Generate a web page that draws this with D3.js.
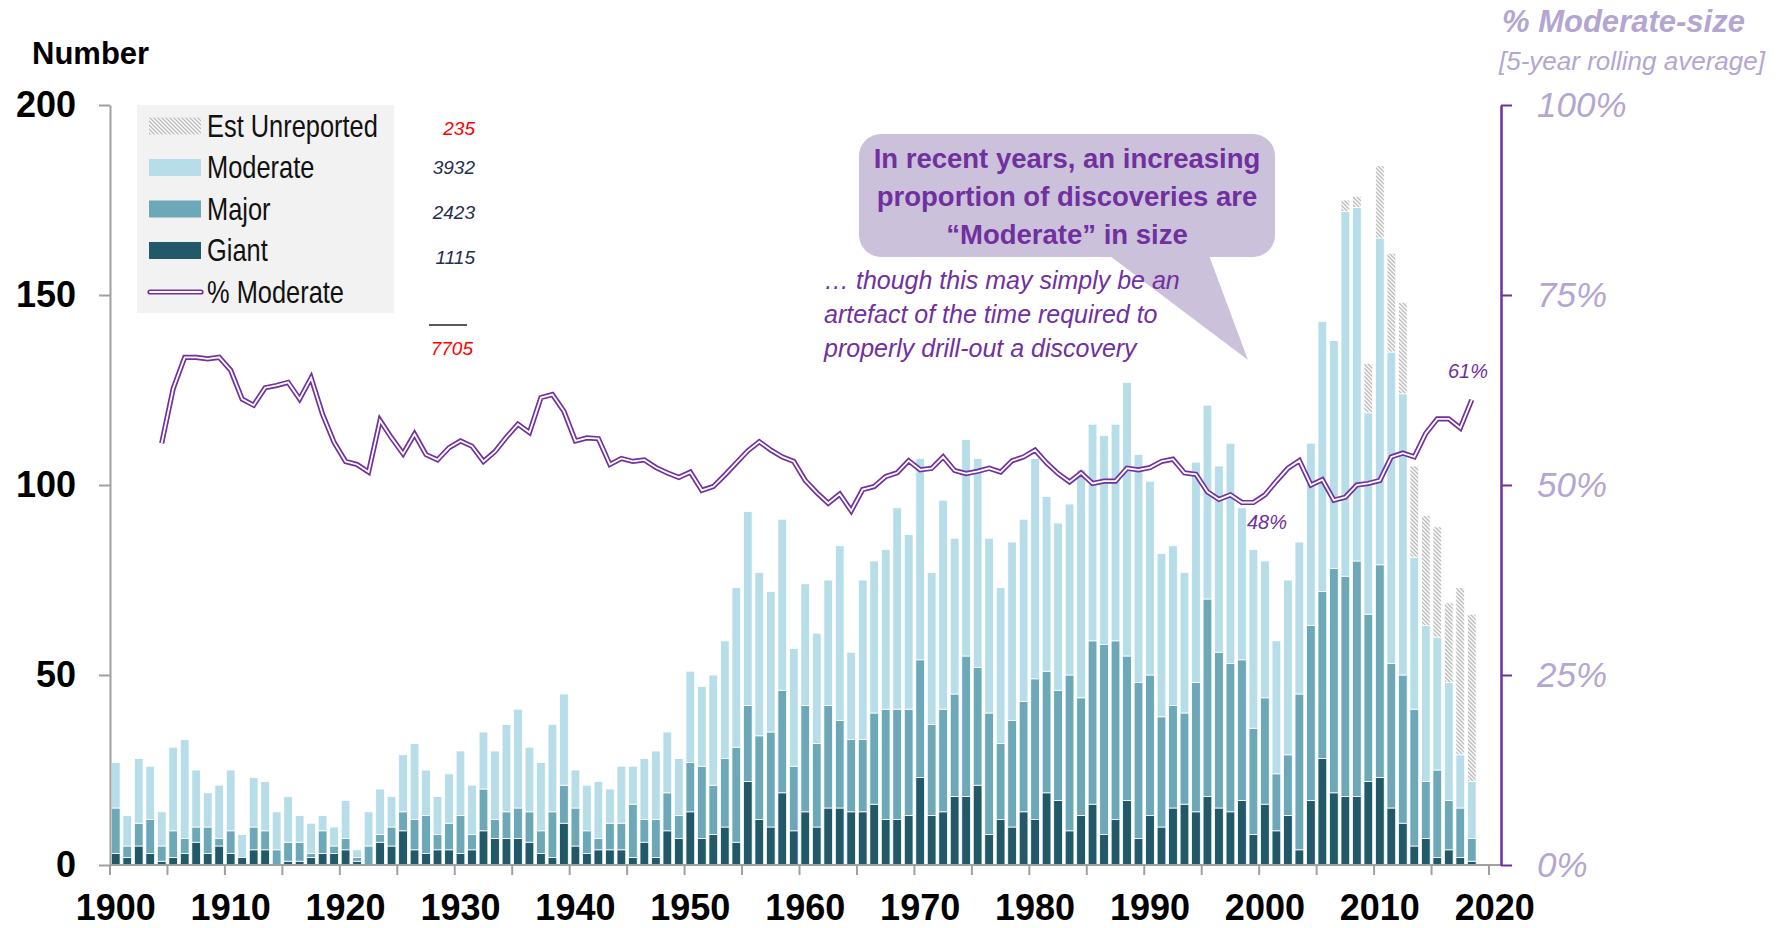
<!DOCTYPE html>
<html>
<head>
<meta charset="utf-8">
<script src="https://cdn.jsdelivr.net/npm/d3@7"></script>
<style>
  body { margin: 0; background: #fff; }
  svg { display: block; }
  text { font-family: "Liberation Sans", Arial, sans-serif; }
</style>
</head>
<body>
<svg id="chart" width="1784" height="928"></svg>
<script>
// discoveries per year, split by size class
const years = d3.range(1900, 2019);

const giant = [3, 2, 5, 3, 1, 2, 3, 6, 3, 5,
  3, 2, 4, 4, 0, 1, 1, 2, 3, 3,
  4, 1, 0, 6, 5, 9, 4, 3, 4, 4,
  3, 4, 9, 7, 7, 7, 6, 3, 2, 11,
  5, 3, 4, 4, 4, 2, 6, 2, 9, 7,
  14, 7, 8, 10, 6, 22, 12, 10, 19, 9,
  14, 10, 15, 15, 14, 14, 16, 12, 12, 13,
  23, 13, 14, 18, 18, 21, 8, 12, 10, 14,
  12, 19, 17, 9, 13, 16, 8, 12, 17, 7,
  13, 10, 15, 16, 14, 18, 15, 14, 17, 8,
  16, 9, 13, 4, 17, 28, 19, 18, 18, 22,
  23, 15, 11, 5, 7, 2, 4, 2, 1];

const major = [12, 3, 6, 9, 4, 7, 4, 4, 7, 2,
  6, 0, 6, 5, 4, 5, 5, 1, 6, 2,
  3, 1, 5, 2, 5, 5, 8, 10, 4, 7,
  10, 4, 11, 5, 7, 8, 8, 6, 12, 10,
  10, 6, 3, 7, 7, 14, 6, 10, 10, 6,
  13, 19, 13, 18, 25, 20, 22, 25, 27, 17,
  28, 22, 27, 23, 19, 19, 24, 29, 29, 28,
  31, 24, 27, 27, 37, 31, 32, 20, 28, 29,
  37, 32, 29, 41, 31, 43, 50, 47, 38, 41,
  37, 29, 27, 24, 34, 52, 41, 39, 37, 28,
  28, 15, 16, 41, 46, 44, 59, 58, 62, 44,
  56, 38, 39, 36, 15, 23, 13, 13, 6];

const moderate = [12, 8, 17, 14, 9, 22, 26, 15, 9, 14,
  16, 6, 13, 13, 10, 12, 7, 8, 4, 5,
  10, 2, 9, 12, 8, 15, 20, 12, 10, 13,
  17, 13, 15, 18, 23, 26, 17, 18, 23, 24,
  10, 12, 15, 9, 15, 10, 16, 18, 16, 15,
  24, 21, 29, 31, 42, 51, 43, 37, 45, 31,
  32, 29, 33, 46, 23, 42, 40, 42, 53, 46,
  53, 40, 55, 41, 57, 55, 46, 41, 47, 48,
  58, 46, 44, 45, 60, 57, 55, 57, 72, 60,
  51, 43, 42, 37, 58, 51, 49, 58, 40, 47,
  36, 35, 46, 40, 48, 71, 60, 96, 93, 53,
  86, 82, 74, 40, 41, 35, 31, 14, 15];

const unreportedYears = d3.range(2007, 2019);
const unreported = [3, 3, 13, 19, 26, 24, 24, 29, 29, 21, 44, 44];

// 5-year rolling % moderate
const shareYears = d3.range(1904, 2019);
const share = [55.5, 62.7, 66.8, 66.8, 66.6, 66.8, 65.1, 61.3, 60.5, 62.8,
  63.1, 63.5, 61.3, 64.1, 59.3, 55.6, 53.1, 52.7, 51.7, 58.5,
  56.2, 54.1, 56.7, 54.0, 53.3, 54.9, 55.8, 55.1, 53.1, 54.4,
  56.3, 58.0, 56.9, 61.5, 61.9, 59.7, 55.8, 56.2, 56.1, 52.7,
  53.5, 53.1, 53.3, 52.3, 51.6, 51.0, 51.7, 49.3, 49.8, 51.3,
  52.9, 54.5, 55.7, 54.6, 53.7, 53.1, 50.6, 49.0, 47.6, 48.8,
  46.6, 49.4, 49.8, 51.1, 51.6, 53.2, 52.0, 52.2, 53.7, 51.9,
  51.5, 51.8, 52.2, 51.7, 53.2, 53.7, 54.6, 52.9, 51.5, 50.4,
  51.6, 50.2, 50.5, 50.5, 52.2, 52.0, 52.3, 53.1, 53.4, 51.6,
  51.4, 49.1, 48.1, 48.7, 47.7, 47.7, 48.7, 50.5, 52.2, 53.2,
  50.0, 50.7, 48.0, 48.4, 50.0, 50.2, 50.6, 53.7, 54.2, 53.7,
  56.8, 58.7, 58.7, 57.5, 61.2];

const legendLabels = ["Est Unreported", "Moderate", "Major", "Giant", "% Moderate"];
const legendTotals = [235, 3932, 2423, 1115];
const grandTotal = 7705;

const yTicks = [0, 50, 100, 150, 200];
const pctTicks = [0, 0.25, 0.5, 0.75, 1];
const xTickYears = d3.range(1900, 2021, 5);
const xLabelYears = d3.range(1900, 2021, 10);

const purple = "#7030a0";
const lavender = "#b4a6d2";
const axisGrey = "#a0a0a0";

const svg = d3.select("#chart");

const x = d3.scaleLinear().domain([1900, 2020]).range([110, 1489]);
const xBand = d3.scaleBand()
  .domain(d3.range(1900, 2020))
  .range([110, 1489])
  .paddingInner(0.24)
  .paddingOuter(0.12);
const y = d3.scaleLinear().domain([0, 200]).range([865, 105]);
const yPct = d3.scaleLinear().domain([0, 1]).range([865, 105]);

// hatch for unreported
const defs = svg.append("defs");
const hatch = defs.append("pattern")
  .attr("id", "hatch")
  .attr("patternUnits", "userSpaceOnUse")
  .attr("width", 4)
  .attr("height", 4);
hatch.append("rect").attr("width", 4).attr("height", 4).attr("fill", "#fff");
hatch.append("path")
  .attr("d", "M0,0L4,4M-1,3L1,5M3,-1L5,1")
  .attr("stroke", "#bdbdbd")
  .attr("stroke-width", 1.5);

const colors = {
  giant: "#215968",
  major: "#6ca8b8",
  moderate: "#b7dee8",
  unreported: "url(#hatch)",
};

const table = years.map((yr, i) => {
  const u = unreportedYears.indexOf(yr);
  return {
    year: yr,
    giant: giant[i],
    major: major[i],
    moderate: moderate[i],
    unreported: u >= 0 ? unreported[u] : 0,
  };
});

const series = d3.stack().keys(["giant", "major", "moderate", "unreported"])(table);

svg.append("g")
  .selectAll("g")
  .data(series)
  .join("g")
  .attr("fill", (s) => colors[s.key])
  .selectAll("rect")
  .data((s) => s.filter((d) => d[1] > d[0]))
  .join("rect")
  .attr("x", (d) => xBand(d.data.year))
  .attr("width", xBand.bandwidth())
  .attr("y", (d) => y(d[1]))
  .attr("height", (d) => y(d[0]) - y(d[1]))
  .attr("stroke", "#fff")
  .attr("stroke-width", 0.8);

// left axis
const yAxis = svg.append("g")
  .attr("transform", "translate(110,0)")
  .call(d3.axisLeft(y).tickValues(yTicks).tickSize(11).tickPadding(23).tickSizeOuter(0));
yAxis.select(".domain").attr("stroke", axisGrey).attr("stroke-width", 2);
yAxis.selectAll(".tick line").attr("stroke", axisGrey).attr("stroke-width", 2);
yAxis.selectAll("text")
  .attr("font-family", "'Liberation Sans', Arial, sans-serif")
  .attr("font-size", 36)
  .attr("font-weight", "bold")
  .attr("fill", "#000");

// bottom axis: ticks between categories, labels on the category centre
const xAxis = svg.append("g").attr("transform", "translate(0,865)");
xAxis.append("line")
  .attr("x1", 110).attr("x2", 1501)
  .attr("stroke", axisGrey).attr("stroke-width", 2);
xAxis.selectAll(".xt")
  .data(xTickYears)
  .join("line")
  .attr("class", "xt")
  .attr("x1", (d) => x(d)).attr("x2", (d) => x(d))
  .attr("y1", 0).attr("y2", 10)
  .attr("stroke", axisGrey).attr("stroke-width", 2);
xAxis.selectAll(".xl")
  .data(xLabelYears)
  .join("text")
  .attr("class", "xl")
  .attr("x", (d) => x(d + 0.5))
  .attr("y", 55)
  .attr("text-anchor", "middle")
  .attr("font-size", 36)
  .attr("font-weight", "bold")
  .text((d) => d);

// right axis
const rAxis = svg.append("g")
  .attr("transform", "translate(1501,0)")
  .call(d3.axisRight(yPct).tickValues(pctTicks).tickSize(11).tickPadding(25).tickSizeOuter(0)
    .tickFormat(d3.format(".0%")));
rAxis.select(".domain").attr("stroke", purple).attr("stroke-width", 2.5);
rAxis.selectAll(".tick line").attr("stroke", purple).attr("stroke-width", 2);
rAxis.selectAll("text")
  .attr("font-family", "'Liberation Sans', Arial, sans-serif")
  .attr("font-size", 35)
  .attr("font-style", "italic")
  .attr("fill", lavender);

// axis titles
svg.append("text")
  .attr("x", 32).attr("y", 64)
  .attr("font-size", 31).attr("font-weight", "bold")
  .text("Number");
svg.append("text")
  .attr("x", 1502).attr("y", 32)
  .attr("font-size", 31).attr("font-weight", "bold").attr("font-style", "italic")
  .attr("fill", lavender)
  .text("% Moderate-size");
svg.append("text")
  .attr("x", 1499).attr("y", 70)
  .attr("font-size", 26).attr("font-style", "italic")
  .attr("fill", lavender)
  .text("[5-year rolling average]");

// % moderate line (double stroke)
const line = d3.line()
  .x((d, i) => xBand(shareYears[i]) + xBand.bandwidth() / 2)
  .y((d) => yPct(d / 100));
svg.append("path")
  .datum(share)
  .attr("d", line)
  .attr("fill", "none")
  .attr("stroke", purple)
  .attr("stroke-width", 5.2);
svg.append("path")
  .datum(share)
  .attr("d", line)
  .attr("fill", "none")
  .attr("stroke", "#fff")
  .attr("stroke-width", 1.8);

svg.append("text")
  .attr("x", 1247).attr("y", 529)
  .attr("font-size", 20).attr("font-style", "italic").attr("fill", purple)
  .text("48%");
svg.append("text")
  .attr("x", 1448).attr("y", 378)
  .attr("font-size", 20).attr("font-style", "italic").attr("fill", purple)
  .text("61%");

// legend
const legend = svg.append("g");
legend.append("rect")
  .attr("x", 137).attr("y", 105)
  .attr("width", 257).attr("height", 208)
  .attr("fill", "#f2f2f2");
const swatchFill = [colors.unreported, colors.moderate, colors.major, colors.giant];
const rowY = (i) => 126 + i * 41.5;
legend.selectAll(".sw")
  .data(swatchFill)
  .join("rect")
  .attr("class", "sw")
  .attr("x", 149).attr("y", (d, i) => rowY(i) - 8.5)
  .attr("width", 52).attr("height", 17)
  .attr("fill", (d) => d);
legend.append("line")
  .attr("x1", 150).attr("x2", 201).attr("y1", rowY(4)).attr("y2", rowY(4))
  .attr("stroke", purple).attr("stroke-width", 5.2).attr("stroke-linecap", "round");
legend.append("line")
  .attr("x1", 150).attr("x2", 201).attr("y1", rowY(4)).attr("y2", rowY(4))
  .attr("stroke", "#fff").attr("stroke-width", 1.8).attr("stroke-linecap", "round");
// narrow face: squeeze regular sans horizontally
legend.selectAll(".lt")
  .data(legendLabels)
  .join("text")
  .attr("class", "lt")
  .attr("transform", (d, i) => `translate(207,${rowY(i) + 10.5}) scale(0.82,1)`)
  .attr("font-size", 31)
  .attr("fill", "#111")
  .text((d) => d);

// totals beside legend
const totalsFont = "Lato, 'Open Sans', sans-serif";
svg.selectAll(".tot")
  .data(legendTotals)
  .join("text")
  .attr("class", "tot")
  .attr("x", 475)
  .attr("y", (d, i) => [135, 174, 219, 264][i])
  .attr("text-anchor", "end")
  .attr("font-family", totalsFont)
  .attr("font-size", 19)
  .attr("font-style", "italic")
  .attr("fill", (d, i) => (i === 0 ? "#ff0000" : "#1f2f4f"))
  .text((d) => d);
svg.append("line")
  .attr("x1", 429).attr("x2", 467).attr("y1", 325).attr("y2", 325)
  .attr("stroke", "#595959").attr("stroke-width", 2);
svg.append("text")
  .attr("x", 473).attr("y", 355)
  .attr("text-anchor", "end")
  .attr("font-family", totalsFont)
  .attr("font-size", 19)
  .attr("font-style", "italic")
  .attr("fill", "#ff0000")
  .text(grandTotal);

// speech bubble annotation
const bubble = svg.append("g");
bubble.append("path")
  .attr("d", "M1102,250L1248,360L1207,250Z")
  .attr("fill", "#ccc1da");
bubble.append("rect")
  .attr("x", 859).attr("y", 134)
  .attr("width", 416).attr("height", 123)
  .attr("rx", 22)
  .attr("fill", "#ccc1da");
bubble.selectAll("text")
  .data(["In recent years, an increasing", "proportion of discoveries are", "\u201cModerate\u201d in size"])
  .join("text")
  .attr("x", 1067)
  .attr("y", (d, i) => 168 + i * 38)
  .attr("text-anchor", "middle")
  .attr("font-family", "Lato, 'Open Sans', sans-serif")
  .attr("font-size", 27.5)
  .attr("font-weight", "bold")
  .attr("fill", purple)
  .text((d) => d);

svg.append("g")
  .selectAll("text")
  .data(["\u2026 though this may simply be an", "artefact of the time required to", "properly drill-out a discovery"])
  .join("text")
  .attr("x", 824)
  .attr("y", (d, i) => 289 + i * 34)
  .attr("font-family", "Lato, 'Open Sans', sans-serif")
  .attr("font-size", 25)
  .attr("font-style", "italic")
  .attr("fill", purple)
  .text((d) => d);
</script>
</body>
</html>
